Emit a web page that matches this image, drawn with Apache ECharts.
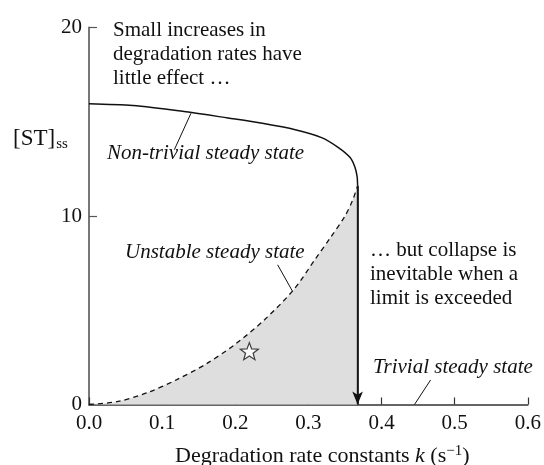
<!DOCTYPE html>
<html>
<head>
<meta charset="utf-8">
<script src="https://cdn.jsdelivr.net/npm/echarts@6/dist/echarts.min.js"></script>
<style>html,body{margin:0;padding:0;background:#fff}#c{width:544px;height:465px}</style>
</head>
<body>
<div id="c"></div>
<script>
// ---- data ----
var xTicks = [0, 0.1, 0.2, 0.3, 0.4, 0.5, 0.6];
var yTicks = [0, 10, 20];
// non-trivial (stable) steady state branch: [k, ST]
var stableK  = [0, 0.06, 0.13, 0.19, 0.237, 0.282, 0.318, 0.341, 0.357, 0.3635, 0.3665, 0.3672];
var stableST = [15.96, 15.86, 15.54, 15.2, 14.92, 14.58, 14.16, 13.63, 13.1, 12.6, 12.1, 11.6];
// unstable steady state branch
var unstableK  = [0, 0.04, 0.08, 0.12, 0.16, 0.2, 0.24, 0.28, 0.31, 0.33, 0.35, 0.36, 0.3672];
var unstableST = [0, 0.16, 0.63, 1.32, 2.15, 3.2, 4.5, 6.1, 7.75, 8.85, 10.0, 10.8, 11.6];
// collapse arrow (critical k)
var collapseK = 0.3672, collapseTop = 11.6;
// star marker
var starPoint = [0.2192, 2.83];
// leader lines for labels: [[k1,v1],[k2,v2]]
var leaders = [
  [[0.1167, 13.52], [0.1394, 15.45]],
  [[0.2579, 7.41], [0.2783, 6.0]],
  [[0.467, 1.3], [0.445, 0]]
];

var serif = '"Liberation Serif","DejaVu Serif",serif';
function pairs(xs, ys){ return xs.map(function(x,i){return [x, ys[i]];}); }

var starPath = 'path://M0,-10L2.469,-3.398L9.511,-3.09L3.994,1.298L5.878,8.09L0,4.2L-5.878,8.09L-3.994,1.298L-9.511,-3.09L-2.469,-3.398Z';

var chart = echarts.init(document.getElementById('c'), null, {renderer:'canvas'});
chart.setOption({
  animation: false,
  backgroundColor: '#fff',
  grid: {left: 89, right: 13, top: 27.5, bottom: 60.5, containLabel: false},
  xAxis: {
    type: 'value', min: 0, max: 0.6, interval: 0.1,
    axisLine: {show: true, onZero: false, lineStyle: {color: '#333', width: 1.5}},
    axisTick: {show: true, inside: true, length: 7, lineStyle: {color: '#333', width: 1.2}},
    axisLabel: {formatter: function(v){return v.toFixed(1);}, fontFamily: serif, fontSize: 21, color: '#111', margin: 8},
    splitLine: {show: false}
  },
  yAxis: {
    type: 'value', min: 0, max: 20, interval: 10,
    axisLine: {show: true, lineStyle: {color: '#777', width: 2}},
    axisTick: {show: true, inside: true, length: 8, lineStyle: {color: '#555', width: 1.2}},
    axisLabel: {fontFamily: serif, fontSize: 21, color: '#111', margin: 7},
    splitLine: {show: false}
  },
  series: [
    {
      type: 'line', data: pairs(unstableK, unstableST), smooth: 0.3, showSymbol: false,
      lineStyle: {color: '#111', width: 1.3, type: [5, 4]},
      areaStyle: {color: '#dedede', opacity: 1},
      z: 2
    },
    {
      type: 'line', data: pairs(stableK, stableST), smooth: 0.3, showSymbol: false,
      lineStyle: {color: '#111', width: 1.5},
      z: 3,
      markLine: {
        silent: true, animation: false,
        symbol: ['none', 'none'],
        label: {show: false},
        lineStyle: {color: '#111', width: 1, type: 'solid'},
        data: leaders.map(function(l){ return [{coord: l[0]}, {coord: l[1]}]; })
      }
    },
    {
      type: 'line', data: [[collapseK, collapseTop], [collapseK, 0]], showSymbol: false,
      lineStyle: {color: '#333', width: 1.6},
      symbol: 'none',
      z: 4,
      markLine: {
        silent: true, animation: false,
        symbol: ['none', 'arrow'], symbolSize: [8, 13],
        label: {show: false},
        lineStyle: {color: '#111', width: 1.6, type: 'solid'},
        data: [[{coord: [collapseK, collapseTop]}, {coord: [collapseK, 0]}]]
      }
    },
    {
      type: 'scatter', data: [starPoint], symbol: starPath, symbolSize: [18, 17],
      itemStyle: {color: '#fff', borderColor: '#111', borderWidth: 1.2},
      z: 5
    }
  ],
  graphic: [
    {type: 'text', left: 113, top: 18.5, style: {text: 'Small increases in\ndegradation rates have\nlittle effect …', font: '21px ' + serif, fill: '#111', lineHeight: 24}},
    {type: 'text', left: 107, top: 141, style: {text: 'Non-trivial steady state', font: 'italic 21px ' + serif, fill: '#111', lineHeight: 24}},
    {type: 'text', left: 125, top: 240, style: {text: 'Unstable steady state', font: 'italic 21px ' + serif, fill: '#111', lineHeight: 24}},
    {type: 'text', left: 370, top: 238, style: {text: '… but collapse is\ninevitable when a\nlimit is exceeded', font: '21px ' + serif, fill: '#111', lineHeight: 24}},
    {type: 'text', left: 373, top: 355, style: {text: 'Trivial steady state', font: 'italic 21px ' + serif, fill: '#111', lineHeight: 24}},
    {type: 'text', left: 13, top: 127, style: {
      text: '{a|[ST]}{s|ss}',
      rich: {a: {font: '23px ' + serif, fill: '#111', lineHeight: 26}, s: {font: '15px ' + serif, fill: '#111', padding: [11, 0, 0, 1]}}
    }},
    {type: 'text', left: 175, top: 444, style: {
      text: '{a|Degradation rate constants }{i|k}{a| (s}{p|−1}{a|)}',
      rich: {
        a: {font: '22px ' + serif, fill: '#111', lineHeight: 24},
        i: {font: 'italic 22px ' + serif, fill: '#111', lineHeight: 24},
        p: {font: '15px ' + serif, fill: '#111', padding: [0, 0, 10, 0]}
      }
    }}
  ]
});
</script>
</body>
</html>
